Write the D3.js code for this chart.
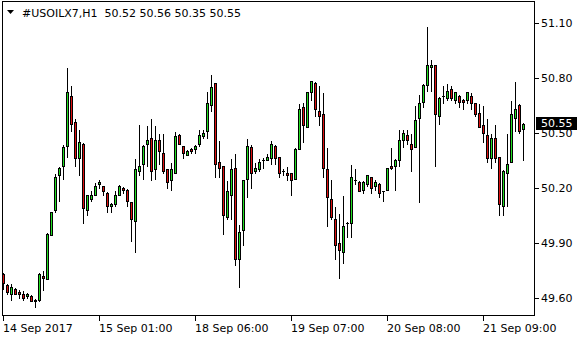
<!DOCTYPE html>
<html>
<head>
<meta charset="utf-8">
<script src="https://cdn.jsdelivr.net/npm/d3@7"></script>
<style>
  html, body { margin: 0; padding: 0; background: #fff; }
  svg { display: block; font-family: "DejaVu Sans", sans-serif; font-size: 11px; }
</style>
</head>
<body>
<svg id="chart" width="580" height="340"></svg>
<script>
// Symbol / timeframe shown in the top-left header
var symbol = '#USOILX7,H1';

// Hourly OHLC bars, oldest first
var opens = [49.73, 49.67, 49.62, 49.65, 49.63, 49.62, 49.61, 49.61, 49.59, 49.59,
  49.72, 49.70, 49.94, 50.08, 50.27, 50.32, 50.43, 50.70, 50.56, 50.36,
  50.44, 50.08, 50.14, 50.16, 50.22, 50.21, 50.17, 50.10, 50.11, 50.16,
  50.20, 50.19, 50.12, 50.02, 50.29, 50.33, 50.44, 50.47, 50.30, 50.46,
  50.39, 50.30, 50.24, 50.28, 50.49, 50.43, 50.38, 50.41, 50.41, 50.44,
  50.48, 50.51, 50.65, 50.77, 50.34, 50.32, 50.04, 50.16, 50.31, 49.81,
  49.97, 50.25, 50.42, 50.29, 50.30, 50.35, 50.35, 50.36, 50.43, 50.37,
  50.29, 50.28, 50.28, 50.25, 50.41, 50.64, 50.53, 50.72, 50.77, 50.62,
  50.60, 50.30, 50.14, 50.03, 49.90, 49.85, 50.01, 50.01, 50.24, 50.23,
  50.19, 50.22, 50.26, 50.21, 50.22, 50.18, 50.19, 50.32, 50.32, 50.35,
  50.46, 50.49, 50.44, 50.42, 50.58, 50.67, 50.76, 50.86, 50.87, 50.59,
  50.70, 50.69, 50.74, 50.68, 50.70, 50.68, 50.68, 50.70, 50.66, 50.61,
  50.54, 50.49, 50.36, 50.47, 50.37, 50.10, 50.28, 50.34, 50.58, 50.65,
  50.52];

var highs = [49.74, 49.68, 49.68, 49.66, 49.65, 49.64, 49.63, 49.62, 49.60, 49.74,
  49.75, 49.96, 50.07, 50.28, 50.32, 50.44, 50.86, 50.76, 50.58, 50.52,
  50.45, 50.16, 50.19, 50.23, 50.25, 50.21, 50.18, 50.12, 50.19, 50.22,
  50.21, 50.20, 50.13, 50.36, 50.55, 50.44, 50.54, 50.58, 50.54, 50.50,
  50.50, 50.31, 50.34, 50.51, 50.50, 50.43, 50.41, 50.42, 50.44, 50.52,
  50.52, 50.73, 50.82, 50.77, 50.46, 50.32, 50.24, 50.36, 50.39, 50.00,
  50.24, 50.47, 50.44, 50.34, 50.36, 50.37, 50.39, 50.46, 50.44, 50.37,
  50.31, 50.32, 50.28, 50.42, 50.66, 50.67, 50.73, 50.79, 50.78, 50.76,
  50.72, 50.42, 50.25, 50.10, 50.06, 50.16, 50.02, 50.33, 50.31, 50.24,
  50.24, 50.27, 50.26, 50.25, 50.23, 50.19, 50.31, 50.42, 50.36, 50.52,
  50.52, 50.52, 50.50, 50.65, 50.71, 50.77, 51.08, 50.90, 50.87, 50.70,
  50.76, 50.77, 50.76, 50.72, 50.71, 50.69, 50.72, 50.72, 50.66, 50.66,
  50.65, 50.58, 50.50, 50.55, 50.37, 50.30, 50.50, 50.68, 50.78, 50.66,
  50.56];

var lows = [49.65, 49.62, 49.59, 49.62, 49.60, 49.59, 49.60, 49.58, 49.55, 49.58,
  49.64, 49.70, 49.94, 50.07, 50.13, 50.25, 50.37, 50.51, 50.32, 50.27,
  50.01, 50.05, 50.13, 50.16, 50.20, 50.16, 50.07, 50.07, 50.10, 50.16,
  50.17, 50.10, 49.91, 49.85, 50.27, 50.25, 50.32, 50.24, 50.25, 50.33,
  50.28, 50.20, 50.19, 50.28, 50.44, 50.36, 50.38, 50.39, 50.39, 50.43,
  50.47, 50.47, 50.62, 50.26, 50.26, 49.95, 50.03, 50.03, 49.78, 49.66,
  49.89, 50.15, 50.20, 50.28, 50.29, 50.31, 50.35, 50.33, 50.33, 50.26,
  50.27, 50.24, 50.16, 50.25, 50.41, 50.45, 50.53, 50.68, 50.59, 50.54,
  50.26, 49.99, 50.03, 49.81, 49.71, 49.79, 49.93, 49.93, 50.22, 50.18,
  50.17, 50.21, 50.17, 50.19, 50.15, 50.13, 50.19, 50.30, 50.19, 50.32,
  50.42, 50.44, 50.29, 50.42, 50.12, 50.64, 50.73, 50.73, 50.32, 50.55,
  50.66, 50.68, 50.68, 50.66, 50.64, 50.63, 50.66, 50.63, 50.59, 50.53,
  50.45, 50.34, 50.31, 50.34, 50.05, 50.05, 50.10, 50.34, 50.51, 50.50,
  50.35];

var closes = [49.68, 49.63, 49.66, 49.62, 49.62, 49.60, 49.62, 49.58, 49.58, 49.73,
  49.71, 49.95, 50.07, 50.26, 50.31, 50.42, 50.72, 50.55, 50.36, 50.45,
  50.09, 50.16, 50.16, 50.21, 50.23, 50.18, 50.10, 50.11, 50.16, 50.21,
  50.19, 50.13, 50.03, 50.30, 50.32, 50.43, 50.46, 50.29, 50.46, 50.40,
  50.29, 50.23, 50.30, 50.48, 50.44, 50.39, 50.40, 50.40, 50.43, 50.49,
  50.50, 50.66, 50.75, 50.33, 50.31, 50.05, 50.18, 50.30, 49.81, 49.96,
  50.24, 50.43, 50.28, 50.31, 50.34, 50.35, 50.37, 50.44, 50.36, 50.28,
  50.29, 50.27, 50.24, 50.41, 50.63, 50.54, 50.72, 50.78, 50.63, 50.59,
  50.31, 50.15, 50.04, 49.89, 49.86, 49.99, 50.01, 50.26, 50.24, 50.18,
  50.23, 50.27, 50.20, 50.23, 50.17, 50.18, 50.31, 50.31, 50.35, 50.46,
  50.50, 50.46, 50.41, 50.57, 50.66, 50.76, 50.87, 50.87, 50.60, 50.69,
  50.70, 50.73, 50.69, 50.72, 50.67, 50.67, 50.72, 50.66, 50.60, 50.53,
  50.50, 50.36, 50.47, 50.36, 50.11, 50.29, 50.33, 50.60, 50.63, 50.51,
  50.55];

// Price scale labels on the right
var priceTicks = [49.60, 49.90, 50.20, 50.50, 50.80, 51.10];

// Time scale labels: bar index and the text printed under it
var timeTickBars = [0, 24, 48, 72, 96, 120];
var timeTickLabels = ['14 Sep 2017', '15 Sep 01:00', '18 Sep 06:00',
  '19 Sep 07:00', '20 Sep 08:00', '21 Sep 09:00'];

var bars = opens.map(function(o, i) {
  return { i: i, open: o, high: highs[i], low: lows[i], close: closes[i] };
});

var svg = d3.select('#chart');

// One slot of 4px per bar, the chart is shifted so there is room on the right
var x = d3.scaleBand()
  .domain(d3.range(bars.length))
  .range([1.5, 1.5 + 4 * bars.length]);

var y = d3.scaleLinear()
  .domain([49.60, 51.10])
  .range([297.7, 22.7]);

function cx(i) {
  return x(i) + x.bandwidth() / 2;
}

// snap to the middle of a pixel so 1px strokes stay sharp
function py(v) {
  return Math.round(y(v)) + 0.5;
}

var frame = { left: 2.5, top: 1.5, right: 534.5, bottom: 315.5 };

// Candles: wick first, then the body on top
var candle = svg.append('g')
  .attr('shape-rendering', 'crispEdges')
  .selectAll('g')
  .data(bars)
  .enter()
  .append('g');

candle.append('line')
  .attr('x1', function(d) { return cx(d.i); })
  .attr('x2', function(d) { return cx(d.i); })
  .attr('y1', function(d) { return py(d.high); })
  .attr('y2', function(d) { return py(d.low); })
  .attr('stroke', '#000');

candle.filter(function(d) { return Math.abs(py(d.open) - py(d.close)) >= 1; })
  .append('rect')
  .attr('x', function(d) { return cx(d.i) - 1; })
  .attr('width', 2)
  .attr('y', function(d) { return Math.min(py(d.open), py(d.close)); })
  .attr('height', function(d) { return Math.abs(py(d.open) - py(d.close)); })
  .attr('fill', function(d) { return d.close >= d.open ? '#22dd22' : '#dd1111'; })
  .attr('stroke', '#000');

// doji: just a small horizontal dash
candle.filter(function(d) { return Math.abs(py(d.open) - py(d.close)) < 1; })
  .append('line')
  .attr('x1', function(d) { return cx(d.i) - 1.5; })
  .attr('x2', function(d) { return cx(d.i) + 1.5; })
  .attr('y1', function(d) { return py(d.close); })
  .attr('y2', function(d) { return py(d.close); })
  .attr('stroke', '#000');

// Frame around the plot
svg.append('rect')
  .attr('x', frame.left)
  .attr('y', frame.top)
  .attr('width', frame.right - frame.left)
  .attr('height', frame.bottom - frame.top)
  .attr('fill', 'none')
  .attr('stroke', '#000')
  .attr('shape-rendering', 'crispEdges');

// Right price axis
var pAxis = svg.append('g');

pAxis.selectAll('line')
  .data(priceTicks)
  .enter()
  .append('line')
  .attr('x1', frame.right)
  .attr('x2', frame.right + 4)
  .attr('y1', py)
  .attr('y2', py)
  .attr('stroke', '#000')
  .attr('shape-rendering', 'crispEdges');

pAxis.selectAll('text')
  .data(priceTicks)
  .enter()
  .append('text')
  .attr('x', 541)
  .attr('y', function(d) { return y(d); })
  .attr('dy', '0.36em')
  .attr('fill', '#000')
  .text(d3.format('.2f'));

// Bottom time axis
var tAxis = svg.append('g');

tAxis.selectAll('line')
  .data(timeTickBars)
  .enter()
  .append('line')
  .attr('x1', cx)
  .attr('x2', cx)
  .attr('y1', frame.bottom)
  .attr('y2', frame.bottom + 5)
  .attr('stroke', '#000')
  .attr('shape-rendering', 'crispEdges');

tAxis.selectAll('text')
  .data(timeTickBars)
  .enter()
  .append('text')
  .attr('x', function(d) { return cx(d) - 0.5; })
  .attr('y', 332)
  .attr('fill', '#000')
  .text(function(d, k) { return timeTickLabels[k]; });

// Last price marker
var last = bars[bars.length - 1];

svg.append('rect')
  .attr('x', 536)
  .attr('y', Math.round(y(last.close)) - 7)
  .attr('width', 41)
  .attr('height', 13)
  .attr('fill', '#000');

svg.append('text')
  .attr('x', 541)
  .attr('y', y(last.close))
  .attr('dy', '0.36em')
  .attr('fill', '#fff')
  .text(d3.format('.2f')(last.close));

// Header: triangle + symbol + OHLC of the last bar
svg.append('path')
  .attr('d', d3.line()([[7, 10], [14, 10], [10.5, 14]]) + 'Z')
  .attr('fill', '#000');

svg.append('text')
  .attr('x', 22)
  .attr('y', 17)
  .attr('fill', '#000')
  .style('white-space', 'pre')
  .text(symbol + '  ' + [last.open, last.high, last.low, last.close].map(d3.format('.2f')).join(' '));
</script>
</body>
</html>
